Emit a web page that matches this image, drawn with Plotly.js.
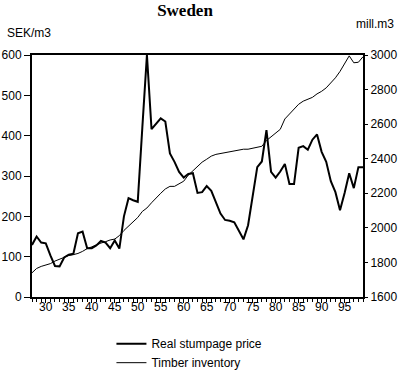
<!DOCTYPE html>
<html><head><meta charset="utf-8">
<script src="https://cdn.plot.ly/plotly-3.0.1.min.js"></script>
<style>html,body{margin:0;padding:0;background:#fff}#chart{width:400px;height:372px}</style>
</head><body><div id="chart"></div>
<script>
const years = [1927,1928,1929,1930,1931,1932,1933,1934,1935,1936,1937,1938,1939,1940,1941,1942,1943,1944,1945,1946,1947,1948,1949,1950,1951,1952,1953,1954,1955,1956,1957,1958,1959,1960,1961,1962,1963,1964,1965,1966,1967,1968,1969,1970,1971,1972,1973,1974,1975,1976,1977,1978,1979,1980,1981,1982,1983,1984,1985,1986,1987,1988,1989,1990,1991,1992,1993,1994,1995,1996,1997,1998,1999];
const realStumpagePrice = [129,150,135,133,103,77,76,98,105,107,158,162,121,121,128,139,135,121,140,120,200,245,240,236,420,600,416,430,443,435,356,335,310,296,305,307,258,260,275,263,234,207,191,189,185,162,143,178,250,322,336,414,310,296,311,330,280,280,370,374,365,390,403,360,335,287,260,215,258,307,270,322,322];
const timberInventory = [1740,1765,1777,1785,1793,1808,1818,1828,1840,1845,1852,1864,1880,1890,1903,1912,1920,1930,1935,1955,1985,2010,2035,2060,2095,2115,2145,2175,2200,2225,2240,2240,2255,2270,2305,2330,2350,2380,2397,2415,2425,2430,2437,2441,2448,2453,2455,2455,2460,2465,2472,2505,2525,2550,2570,2630,2660,2690,2715,2733,2742,2755,2775,2790,2810,2840,2868,2905,2950,2995,2955,2958,2990];
const xTickValues = [1930,1935,1940,1945,1950,1955,1960,1965,1970,1975,1980,1985,1990,1995];
const xTickLabels = ['30','35','40','45','50','55','60','65','70','75','80','85','90','95'];
const leftTicks = [0,100,200,300,400,500,600];
const rightTicks = [1600,1800,2000,2200,2400,2600,2800,3000];
const seriesNames = ['Real stumpage price','Timber inventory'];

const tickFont = {family:'Liberation Sans, Arial, sans-serif', size:12, color:'#000'};

const traces = [
  {x: years, y: realStumpagePrice, name: seriesNames[0], type:'scatter', mode:'lines',
   line:{color:'#000', width:2}, yaxis:'y'},
  {x: years, y: timberInventory, name: seriesNames[1], type:'scatter', mode:'lines',
   line:{color:'#000', width:1}, yaxis:'y2'}
];

const layout = {
  width:400, height:372,
  margin:{l:32, r:37, t:55, b:75, pad:0, autoexpand:false},
  paper_bgcolor:'#fff', plot_bgcolor:'#fff',
  font: tickFont,
  title:{text:'Sweden', font:{family:'Liberation Serif, Times New Roman, serif', size:17, weight:'bold', color:'#000'},
    x:0.4625, xanchor:'center', xref:'container', y:1-10/372, yanchor:'middle', yref:'container'},
  xaxis:{range:[1927,1999], tickvals:xTickValues, ticktext:xTickLabels, ticks:'outside', ticklen:4, tickwidth:1, tickcolor:'#000',
    ticklabelstandoff:-6,
    minor:{dtick:1, tick0:1927, ticks:'outside', ticklen:3, tickwidth:1, tickcolor:'#000'},
    showline:true, linewidth:2, linecolor:'#000', mirror:true, showgrid:false, zeroline:false, tickfont:tickFont},
  yaxis:{range:[0,600], tickvals:leftTicks, ticks:'outside', ticklen:6, tickwidth:1, tickcolor:'#000',
    showline:true, linewidth:2, linecolor:'#000', showgrid:false, zeroline:false, tickfont:tickFont},
  yaxis2:{range:[1600,3000], tickvals:rightTicks, overlaying:'y', side:'right', ticks:'outside', ticklen:3, tickwidth:1, tickcolor:'#000',
    showline:true, linewidth:2, linecolor:'#000', showgrid:false, zeroline:false, tickfont:tickFont},
  showlegend:true,
  legend:{x:0.24, y:-0.133, xanchor:'left', yanchor:'top', orientation:'v', font:tickFont, bgcolor:'rgba(0,0,0,0)', tracegroupgap:0, itemwidth:30},
  annotations:[
    {text:'SEK/m3', xref:'paper', yref:'paper', x:-0.009, y:(297-33)/242, xanchor:'center', yanchor:'middle', showarrow:false, font:tickFont},
    {text:'mill.m3', xref:'paper', yref:'paper', x:(375-32)/331, y:(297-24)/242, xanchor:'center', yanchor:'middle', showarrow:false, font:tickFont}
  ]
};

Plotly.newPlot('chart', traces, layout, {displayModeBar:false, staticPlot:true});
</script>
</body></html>
